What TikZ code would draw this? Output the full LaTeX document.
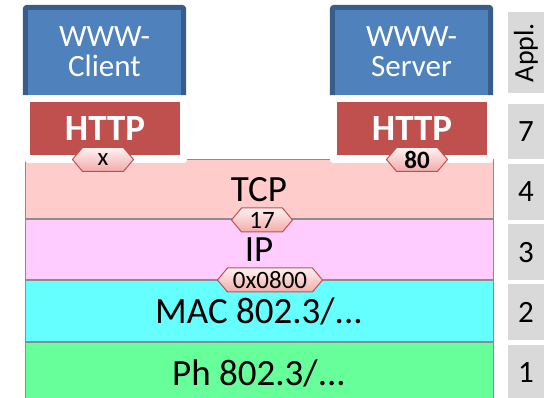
\documentclass[tikz,border=0pt]{standalone}
\usepackage{fontspec}
\setmainfont{Carlito}
\usetikzlibrary{shapes.symbols,positioning}

\definecolor{appblue}{HTML}{4F81BD}
\definecolor{appborder}{HTML}{385D8A}
\definecolor{httpred}{HTML}{C0504D}
\definecolor{tcpcol}{HTML}{FFCCCC}
\definecolor{ipcol}{HTML}{FFCCFF}
\definecolor{maccol}{HTML}{66FFFF}
\definecolor{phcol}{HTML}{66FF99}
\definecolor{nrgray}{HTML}{D9D9D9}
\definecolor{laygray}{HTML}{8C8C8C}
\definecolor{tagtop}{HTML}{FFF2F2}
\definecolor{tagbot}{HTML}{F2ABA9}

\begin{document}
\begin{tikzpicture}[x=1pt,y=-1pt,node distance=4.25pt,
    app/.style={fill=appblue,text=white,minimum width=158pt,minimum height=87.5pt,inner sep=0pt,align=center,font=\fontsize{31}{30}\selectfont},
    appedge/.style={draw=appborder,line width=5pt,rounded corners=2pt},
    pad/.style={fill=white,rounded corners=3pt},
    proto/.style={fill=httpred,text=white,minimum width=150pt,minimum height=53pt,inner sep=0pt,font=\fontsize{37}{37}\selectfont\bfseries},
    layer/.style={draw=laygray,line width=1pt,fill=#1,minimum width=468pt,minimum height=60pt,inner sep=0pt,font=\fontsize{37}{37}\selectfont},
    nr/.style={fill=nrgray,minimum width=36pt,minimum height=55.5pt,inner sep=0pt,font=\fontsize{31}{31}\selectfont},
    tag/.style={signal,signal to=east and west,signal pointer angle=100,draw=httpred,line width=1pt,top color=tagtop,bottom color=tagbot,minimum width=61pt,minimum height=24pt,inner xsep=1pt,inner ysep=0pt,font=\fontsize{25}{25}\selectfont}]
  \useasboundingbox (0,0) rectangle (550,398);

  % protocol stack
  \node[layer=tcpcol,minimum height=59pt] (tcp) at (259,189.5) {TCP};
  \node[layer=ipcol] (ip) [below=0pt of tcp] {IP};
  \node[layer=maccol,minimum height=61pt] (mac) [below=0pt of ip] {MAC 802.3/...};
  \node[layer=phcol] (ph) [below=0pt of mac] {Ph 802.3/...};

  % applications
  \node[app] (client) at (104.5,51.25) {WWW-\\Client};
  \node[app] (server) at (411.5,51.25) {WWW-\\Server};
  \draw[appedge] (client.south west) |- (client.north east) -- (client.south east);
  \draw[appedge] (server.south west) |- (server.north east) -- (server.south east);

  \fill[pad] (25,100) rectangle (187,163);
  \fill[pad] (330,100) rectangle (493,163);
  \node[proto] (chttp) at (105,128.5) {HTTP};
  \node[proto] (shttp) at (412,128.5) {HTTP};

  % ports and type fields
  \node[tag] (cport) at (103,159.5) {x};
  \node[tag,font=\fontsize{25}{25}\selectfont\bfseries] (sport) at (417,159.5) {80};
  \node[tag] (proto) at (262,220) {17};
  \node[tag,minimum width=105pt] (ethtype) at (270,280) {0x0800};

  % layer numbers
  \node[nr,minimum height=81pt,font=\fontsize{28}{28}\selectfont] (appl) at (526,52.5) {\rotatebox{90}{Appl.}};
  \node[nr] (l7) at (526,131.75) {7};
  \node[nr] (l4) [below=of l7] {4};
  \node[nr] (l3) [below=of l4] {3};
  \node[nr] (l2) [below=of l3] {2};
  \node[nr] (l1) [below=of l2] {1};
\end{tikzpicture}
\end{document}
